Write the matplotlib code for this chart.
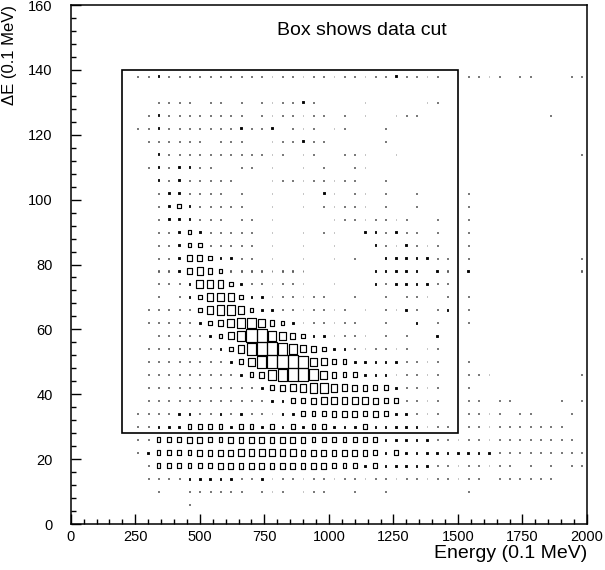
import numpy as np
import matplotlib.pyplot as plt
from matplotlib.patches import Rectangle
from matplotlib.collections import PatchCollection
from matplotlib.ticker import MultipleLocator

plt.rcParams['font.family'] = ['Liberation Sans', 'DejaVu Sans']

# bin edges of the 2D histogram (50 energy bins x 40 dE bins)
energy_edges = np.linspace(0, 2000, 51)
de_edges = np.linspace(0, 160, 41)

# box size per bin: 0 = empty ... a = full bin
# one string per dE bin, top row is dE = 138, last row is dE = 2
box_rows = [
    "0000001121 1111111111 1111111111 1211110011 1101100011",
    "0000000000 0000000000 0000000000 0000000000 0000000000",
    "0000000011 1101101011 1121000010 0000110000 0000000000",
    "0000000121 1111111011 1111101010 0111000000 0000001000",
    "0000001121 1111112112 0111011000 1000000000 0000000000",
    "0000000111 1110111001 1121100000 1000000000 0000000000",
    "0000000021 1111111111 1011001110 0100000000 0000000001",
    "0000000121 2211001101 0010100110 0000000000 0000000000",
    "0000000021 2111110001 1111111100 1000000000 0000000000",
    "0000000012 2111101001 0010210110 1001000010 0000000000",
    "0000000012 3211111001 0010111110 1001000010 0000000000",
    "0000000012 2211101101 0000011111 1110010010 0000000000",
    "0000000011 2321111101 0010110022 1211010010 0000000000",
    "0000000011 2331111101 0010010002 1121110010 0000000000",
    "0000000011 2443221101 0010010100 2222211010 0000000001",
    "0000000011 2454311111 1110000002 2222021020 0000000001",
    "0000000011 1266532111 1110010002 1222211000 0000000000",
    "0000000010 1235653221 1111100100 1011101010 0000000000",
    "0000000111 1135776322 1111111010 1121012010 0000000000",
    "0000000111 1123468864 3211111100 1002010010 0000000000",
    "0000000011 1112358aa8 6432211110 1010020000 0000000000",
    "0000000111 11112369aa 9754322111 1110110000 0000000000",
    "0000000111 111112369a aa96533222 2211110010 0000000000",
    "0000000111 1111112347 9aa8643322 2111110011 1000000001",
    "0000000111 1111111123 4567765443 3211110010 0000000000",
    "0000000111 1111111112 2334555554 3311110011 0110000101",
    "0000001111 2211212111 2233344434 3221110011 1101100010",
    "0000001122 2333323323 2323322232 2222111011 1111111100",
    "0000001133 3443344444 4443333333 2222211111 1111111110",
    "0000001233 3344445555 5544444443 2322222222 2111111111",
    "0000000133 3333444444 4444433323 2222211111 1110101011",
    "0000000111 1222221121 1111111111 1111111111 0111111000",
    "0000000010 0111111011 1011100100 1000000010 0000000000",
    "0000000000 0100000000 0000000000 0000000000 0000000000",
    "0000000000 0000000000 0000000000 0000000000 0000000000",
]

# data cut shown as a box: energy 200-1500, dE 28-140
cut_energy = [200, 1500]
cut_de = [28, 140]


def main():
    fig = plt.figure(figsize=(6.05, 5.70), dpi=100)
    ax = fig.add_axes([0.1169, 0.0807, 0.8534, 0.9105])

    ex = 0.5 * (energy_edges[:-1] + energy_edges[1:])
    ey = 0.5 * (de_edges[:-1] + de_edges[1:])
    bw = energy_edges[1] - energy_edges[0]
    bh = de_edges[1] - de_edges[0]

    boxes, dots, small = [], [], []
    for k, row in enumerate(box_rows):
        yc = ey[len(box_rows) - 1 - k]
        for i, ch in enumerate(row.replace(" ", "")):
            lev = int(ch, 16)
            if lev == 0:
                continue
            if lev == 1:
                f, target = 0.08, dots
            elif lev == 2:
                f, target = 0.16, small
            else:
                f, target = (lev / 10.0) ** 0.85, boxes
            target.append(Rectangle((ex[i] - f * bw / 2, yc - f * bh / 2), f * bw, f * bh))
    ax.add_collection(PatchCollection(dots, facecolor='#333333', edgecolor='#333333', linewidth=0.4))
    ax.add_collection(PatchCollection(small, facecolor='black', edgecolor='black', linewidth=0.6))
    ax.add_collection(PatchCollection(boxes, facecolor='none', edgecolor='black', linewidth=0.85))

    ax.add_patch(Rectangle((cut_energy[0], cut_de[0]), cut_energy[1] - cut_energy[0],
                           cut_de[1] - cut_de[0], fill=False, edgecolor='black', linewidth=1.2))
    ax.text(800, 152, "Box shows data cut", fontsize=14, va='center', ha='left')

    ax.set_xlim(0, 2000)
    ax.set_ylim(0, 160)
    ax.xaxis.set_major_locator(MultipleLocator(250))
    ax.xaxis.set_minor_locator(MultipleLocator(50))
    ax.yaxis.set_major_locator(MultipleLocator(20))
    ax.yaxis.set_minor_locator(MultipleLocator(4))
    ax.tick_params(which='both', direction='in', width=1.0)
    ax.tick_params(which='major', length=7, labelsize=10.5)
    ax.tick_params(which='minor', length=3.6)
    ax.tick_params(axis='x', pad=4)
    ax.tick_params(axis='y', pad=13)
    for s in ax.spines.values():
        s.set_linewidth(1.1)

    ax.set_xlabel("Energy (0.1 MeV)", loc='right', fontsize=14, labelpad=1)
    ax.set_ylabel("ΔE (0.1 MeV)", loc='top', fontsize=12, labelpad=8)

    fig.savefig("out.png", dpi=100)


if __name__ == "__main__":
    main()
